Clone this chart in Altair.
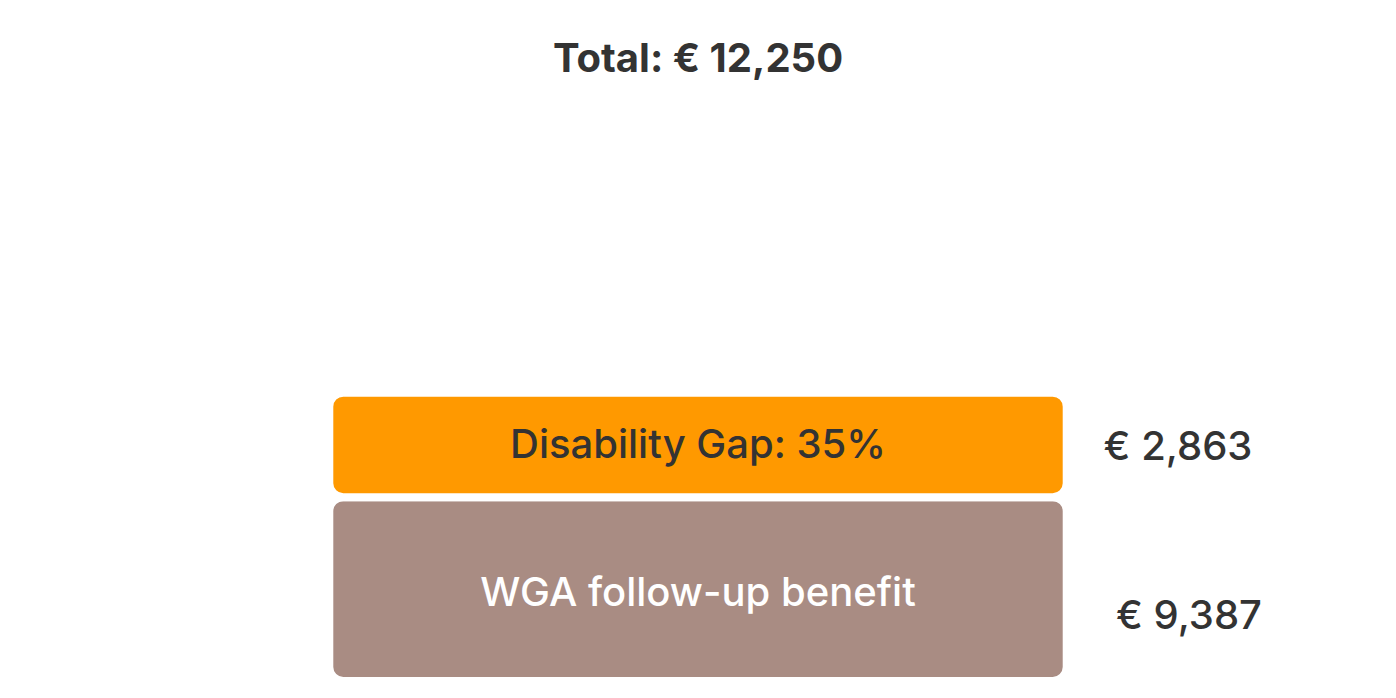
import altair as alt
import pandas as pd

# ---- data ----
bar_name = ["Income", "Income"]
segments = ["WGA follow-up benefit", "Disability Gap: 35%"]
values = [9387, 2863]
value_labels = ["€ 9,387", "€ 2,863"]
seg_order = [1, 2]
seg_colors = ["#a98c83", "#ff9900"]
inner_text_colors = ["#ffffff", "#333333"]
total_label = "Total: € 12,250"

df = pd.DataFrame({
    "bar": bar_name,
    "segment": segments,
    "value": values,
    "label": value_labels,
    "order": seg_order,
})

FONT = "Inter"
DARK = "#333333"
LABEL_SIZE = 40
Y_MIN = 4351
Y_MAX = 20050

x_enc = alt.X("bar:N", axis=None,
              scale=alt.Scale(paddingOuter=0.4357, paddingInner=0))
y_scale = alt.Scale(domain=[Y_MIN, Y_MAX], clamp=True, nice=False, zero=False)

base = alt.Chart(df).transform_stack(
    stack="value", as_=["v0", "v1"], groupby=["bar"],
    sort=[alt.SortField("order", order="ascending")]
).transform_calculate(
    mid=f"(max(datum.v0, {Y_MIN}) + datum.v1) / 2"
)

bars = base.mark_bar(cornerRadius=14, stroke="white", strokeWidth=8).encode(
    x=x_enc,
    y=alt.Y("v0:Q", scale=y_scale, axis=None),
    y2="v1:Q",
    color=alt.Color("segment:N", legend=None,
                    scale=alt.Scale(domain=segments, range=seg_colors)),
)

inner_top = base.transform_filter(alt.datum.order == 2).mark_text(
    font=FONT, fontSize=LABEL_SIZE, fontWeight=500, color=inner_text_colors[1],
    align="center", baseline="middle", dy=1).encode(
    x=x_enc,
    y=alt.Y("mid:Q", scale=y_scale, axis=None),
    text="segment:N",
)

inner_bottom = base.transform_filter(alt.datum.order == 1).mark_text(
    font=FONT, fontSize=LABEL_SIZE, fontWeight=500, color=inner_text_colors[0],
    align="center", baseline="middle", dy=5).encode(
    x=x_enc,
    y=alt.Y("mid:Q", scale=y_scale, axis=None),
    text="segment:N",
)

right_top = base.transform_filter(alt.datum.order == 2).mark_text(
    font=FONT, fontSize=LABEL_SIZE, fontWeight=500, color=DARK,
    align="center", baseline="middle", dx=480, dy=3).encode(
    x=x_enc,
    y=alt.Y("mid:Q", scale=y_scale, axis=None),
    text="label:N",
)

right_bottom = base.transform_filter(alt.datum.order == 1).mark_text(
    font=FONT, fontSize=LABEL_SIZE, fontWeight=500, color=DARK,
    align="center", baseline="middle", dx=491, dy=28).encode(
    x=x_enc,
    y=alt.Y("mid:Q", scale=y_scale, axis=None),
    text="label:N",
)

chart = alt.layer(bars, inner_top, inner_bottom, right_top, right_bottom).properties(
    width=1380,
    height=573,
    autosize=alt.AutoSizeParams(type="none"),
    padding={"top": 100, "left": 0, "right": 0, "bottom": 0},
    title=alt.TitleParams(total_label, font=FONT, fontSize=40, fontWeight="bold",
                          color=DARK, anchor="middle", baseline="alphabetic",
                          offset=-4),
).configure(background="white", view=alt.ViewConfig(stroke=None))

chart.save("out.html", embed_options={"renderer": "svg", "actions": False})
